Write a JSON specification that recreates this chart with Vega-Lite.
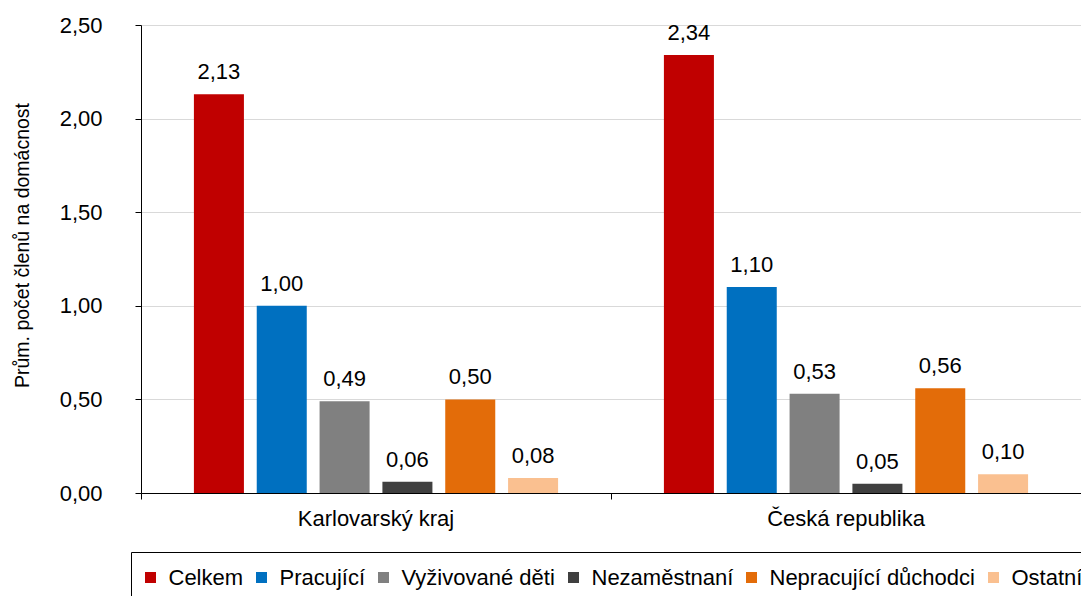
{
  "$schema": "https://vega.github.io/schema/vega-lite/v6.json",
  "width": 940,
  "height": 468,
  "autosize": {"type": "none"},
  "padding": {"left": 141, "top": 25, "right": 0, "bottom": 103},
  "background": "white",
  "config": {
    "locale": {"number": {"decimal": ",", "thousands": " ", "grouping": [3], "currency": ["", " Kč"]}},
    "font": "Liberation Sans",
    "view": {"stroke": null}
  },
  "data": {
    "values": [
      {"region": "Karlovarský kraj", "cat": "Celkem", "value": 2.13},
      {"region": "Karlovarský kraj", "cat": "Pracující", "value": 1.00},
      {"region": "Karlovarský kraj", "cat": "Vyživované děti", "value": 0.49},
      {"region": "Karlovarský kraj", "cat": "Nezaměstnaní", "value": 0.06},
      {"region": "Karlovarský kraj", "cat": "Nepracující důchodci", "value": 0.50},
      {"region": "Karlovarský kraj", "cat": "Ostatní", "value": 0.08},
      {"region": "Česká republika", "cat": "Celkem", "value": 2.34},
      {"region": "Česká republika", "cat": "Pracující", "value": 1.10},
      {"region": "Česká republika", "cat": "Vyživované děti", "value": 0.53},
      {"region": "Česká republika", "cat": "Nezaměstnaní", "value": 0.05},
      {"region": "Česká republika", "cat": "Nepracující důchodci", "value": 0.56},
      {"region": "Česká republika", "cat": "Ostatní", "value": 0.10}
    ]
  },
  "encoding": {
    "x": {
      "field": "region", "type": "nominal", "sort": ["Karlovarský kraj", "Česká republika"],
      "scale": {"paddingInner": 0, "paddingOuter": 0},
      "axis": {
        "title": null, "labelAngle": 0, "bandPosition": 0,
        "domainColor": "black", "tickColor": "black", "tickSize": 6,
        "labelFontSize": 22, "labelColor": "black", "labelPadding": 9, "grid": false,
        "labelFont": "Liberation Sans"
      }
    },
    "xOffset": {
      "field": "cat", "type": "nominal",
      "sort": ["Celkem", "Pracující", "Vyživované děti", "Nezaměstnaní", "Nepracující důchodci", "Ostatní"],
      "scale": {"paddingInner": 0.204, "paddingOuter": 0.842}
    },
    "y": {
      "field": "value", "type": "quantitative",
      "scale": {"domain": [0, 2.5], "nice": false},
      "axis": {
        "title": "Prům. počet členů na domácnost", "values": [0, 0.5, 1, 1.5, 2, 2.5], "format": ".2f",
        "domainColor": "black", "tickColor": "black", "tickSize": 6, "labelPadding": 33,
        "labelFontSize": 22, "labelColor": "black", "gridColor": "#d9d9d9",
        "titleFontSize": 19.5, "titleFontWeight": "normal", "titleColor": "black",
        "titleX": -119, "titleY": 220, "titleAngle": -90, "titleAlign": "center", "titleBaseline": "middle",
        "titleFont": "Liberation Sans", "labelFont": "Liberation Sans"
      }
    }
  },
  "layer": [
    {
      "mark": {"type": "bar"},
      "encoding": {
        "color": {
          "field": "cat", "type": "nominal",
          "sort": ["Celkem", "Pracující", "Vyživované děti", "Nezaměstnaní", "Nepracující důchodci", "Ostatní"],
          "scale": {
            "domain": ["Celkem", "Pracující", "Vyživované děti", "Nezaměstnaní", "Nepracující důchodci", "Ostatní"],
            "range": ["#C00000", "#0070C0", "#808080", "#404040", "#E36C09", "#FAC090"]
          },
          "legend": {
            "title": " ", "titleFontSize": 1, "titlePadding": 5,
            "orient": "none", "direction": "horizontal", "columns": 6,
            "legendX": -10, "legendY": 527,
            "strokeColor": "black", "padding": 8.5,
            "symbolType": "square", "symbolSize": 121, "symbolStrokeWidth": 0,
            "labelFontSize": 22, "labelColor": "black", "labelOffset": 7, "columnPadding": 7,
            "labelLimit": 400, "labelFont": "Liberation Sans"
          }
        }
      }
    },
    {
      "mark": {"type": "text", "baseline": "alphabetic", "dy": -15, "fontSize": 22, "color": "black", "font": "Liberation Sans"},
      "encoding": {
        "text": {"field": "value", "type": "quantitative", "format": ".2f"}
      }
    }
  ]
}
